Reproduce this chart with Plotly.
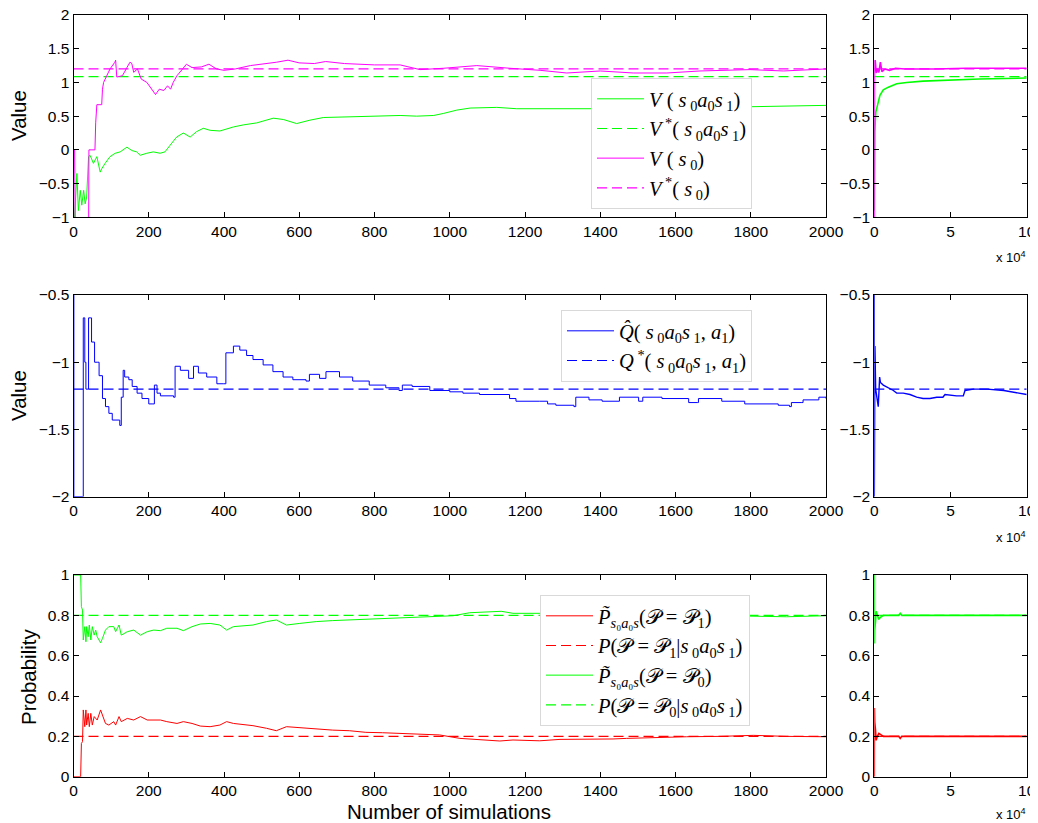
import plotly.graph_objects as go

# ---------------- data ----------------
# Top panel: V(s0) and V(s0 a0 s1)
v_s0_left = [(0, 0), (3, 0), (5, -1.5), (40, -1.5), (41, 0), (57, 0), (59, 0.4), (62, 0.67), (75, 0.67),
             (77, 0.9), (80, 1.0), (88, 1.1), (97, 1.2), (110, 1.3), (112, 1.33), (115, 1.08), (130, 1.1),
             (140, 1.2), (150, 1.3), (155, 1.28), (160, 1.15), (170, 1.2), (180, 1.05), (195, 1.0),
             (205, 0.92), (212, 0.85), (218, 0.82), (228, 0.9), (240, 0.88), (250, 0.95), (258, 0.9),
             (265, 1.0), (275, 1.1), (290, 1.2), (300, 1.27), (315, 1.22), (340, 1.23), (360, 1.27),
             (380, 1.2), (400, 1.18), (430, 1.2), (470, 1.25), (500, 1.27), (540, 1.3), (570, 1.33),
             (600, 1.29), (640, 1.28), (670, 1.31), (720, 1.28), (800, 1.26), (868, 1.26), (921, 1.19),
             (983, 1.21), (1072, 1.25), (1160, 1.21), (1240, 1.18), (1311, 1.14), (1400, 1.17),
             (1488, 1.14), (1577, 1.14), (1665, 1.17), (1798, 1.19), (1887, 1.17), (2000, 1.2)]
v_s0a0s1_left = [(2, -1.1), (9, -0.35), (13, -0.9), (18, -0.6), (22, -0.82), (27, -0.6), (31, -0.8),
                 (35, -0.7), (40, -0.1), (44, -0.08), (53, -0.2), (62, -0.1), (71, -0.33), (75, -0.28),
                 (84, -0.2), (97, -0.1), (111, -0.05), (124, -0.03), (142, 0.04), (155, -0.01),
                 (168, -0.03), (177, -0.08), (195, -0.05), (212, -0.03), (230, -0.05), (243, -0.03),
                 (257, 0.07), (274, 0.19), (292, 0.25), (310, 0.19), (327, 0.27), (345, 0.32),
                 (363, 0.29), (389, 0.28), (425, 0.34), (451, 0.37), (487, 0.40), (531, 0.47),
                 (558, 0.45), (593, 0.39), (628, 0.44), (664, 0.48), (735, 0.49), (823, 0.50),
                 (868, 0.51), (912, 0.5), (957, 0.51), (983, 0.54), (1019, 0.59), (1054, 0.62),
                 (1125, 0.63), (1178, 0.61), (1249, 0.61), (1311, 0.6), (1400, 0.61), (1600, 0.62),
                 (1807, 0.64), (1887, 0.64), (2000, 0.66)]
v_s0_right = [(0, 0), (5, -1.5), (40, -1.5), (41, 0), (60, 0.67), (110, 1.33), (220, 0.82), (300, 1.27),
              (570, 1.33), (1000, 1.25), (1300, 1.14), (2000, 1.2), (3000, 1.15), (4000, 1.3),
              (5000, 1.16), (7000, 1.2), (10000, 1.18), (14000, 1.21), (20000, 1.2), (40000, 1.2),
              (60000, 1.21), (100000, 1.21)]
v_s0a0s1_right = [(0, -0.5), (10, -0.9), (40, -0.1), (70, -0.33), (300, 0.27), (1000, 0.56), (2000, 0.66),
                  (2600, 0.74), (3700, 0.81), (5900, 0.89), (9200, 0.93), (14700, 0.98), (21200, 1.0),
                  (32000, 1.02), (47500, 1.035), (69000, 1.05), (100000, 1.065)]
v_star_s0 = 1.2
v_star_s0a0s1 = 1.085

# Middle panel: Q(s0 a0 s1, a1)
q_left = [(0, -0.3), (1, -2.0), (24, -2.0), (26, -0.67), (30, -1.0), (33, -1.2), (39, -1.2), (40, -0.67),
          (46, -0.67), (48, -0.85), (55, -0.85), (56, -1.0), (63, -1.0), (68, -1.1), (77, -1.27),
          (85, -1.33), (94, -1.38), (103, -1.43), (121, -1.43), (123, -1.47), (127, -1.26), (132, -1.06),
          (136, -1.11), (147, -1.13), (156, -1.18), (169, -1.23), (182, -1.27), (200, -1.31),
          (211, -1.31), (215, -1.17), (222, -1.23), (231, -1.25), (266, -1.26), (270, -1.03),
          (284, -1.06), (306, -1.12), (319, -1.03), (332, -1.08), (354, -1.11), (381, -1.16),
          (398, -1.16), (405, -0.93), (416, -0.93), (425, -0.88), (442, -0.91), (460, -0.95),
          (477, -0.98), (504, -1.02), (530, -1.07), (557, -1.11), (583, -1.13), (618, -1.14),
          (627, -1.09), (654, -1.12), (671, -1.07), (707, -1.11), (742, -1.14), (786, -1.17),
          (830, -1.19), (865, -1.21), (874, -1.17), (900, -1.18), (947, -1.21), (1000, -1.22),
          (1035, -1.23), (1079, -1.24), (1159, -1.27), (1176, -1.29), (1238, -1.29), (1260, -1.31),
          (1282, -1.32), (1330, -1.33), (1335, -1.26), (1370, -1.28), (1405, -1.29), (1450, -1.29),
          (1451, -1.26), (1502, -1.29), (1513, -1.26), (1564, -1.27), (1635, -1.30), (1659, -1.30),
          (1661, -1.27), (1723, -1.29), (1784, -1.31), (1873, -1.32), (1903, -1.33), (1908, -1.30),
          (1934, -1.30), (1939, -1.28), (1979, -1.28), (1981, -1.26), (2000, -1.27)]
q_right = [(0, -0.3), (20, -2.0), (30, -0.67), (120, -1.47), (420, -0.88), (900, -1.2), (2000, -1.27),
           (2600, -1.33), (3500, -1.11), (4000, -1.15), (5900, -1.17), (9200, -1.19), (12500, -1.21),
           (14700, -1.23), (19000, -1.23), (23400, -1.24), (27800, -1.26), (32000, -1.27),
           (36500, -1.27), (41000, -1.26), (45000, -1.26), (46400, -1.24), (54000, -1.25),
           (58400, -1.25), (59500, -1.21), (65000, -1.2), (74000, -1.2), (85000, -1.21),
           (100000, -1.24)]
q_star = -1.2

# Bottom panel: probabilities
p0_left = [(0, 1), (19, 1), (21, 0.843), (24, 0.826), (26, 0.678), (30, 0.744), (33, 0.669), (35, 0.744),
           (39, 0.694), (42, 0.752), (46, 0.678), (50, 0.744), (55, 0.702), (59, 0.727), (63, 0.694),
           (72, 0.664), (77, 0.686), (85, 0.727), (94, 0.744), (107, 0.744), (112, 0.719), (121, 0.752),
           (127, 0.702), (143, 0.719), (160, 0.727), (178, 0.702), (196, 0.719), (213, 0.727),
           (231, 0.724), (248, 0.736), (275, 0.736), (292, 0.724), (315, 0.744), (337, 0.757),
           (363, 0.760), (389, 0.752), (407, 0.727), (425, 0.744), (477, 0.752), (513, 0.769),
           (539, 0.777), (566, 0.752), (601, 0.760), (645, 0.769), (689, 0.774), (733, 0.777),
           (777, 0.782), (821, 0.785), (920, 0.79), (973, 0.793), (1009, 0.798), (1053, 0.813),
           (1098, 0.815), (1137, 0.82), (1168, 0.81), (1300, 0.81), (1500, 0.805), (1700, 0.8),
           (1802, 0.797), (1895, 0.793), (2000, 0.798)]
p1_left = [(0, 0), (19, 0), (21, 0.165), (24, 0.174), (26, 0.331), (30, 0.248), (33, 0.331), (35, 0.256),
           (39, 0.314), (42, 0.248), (46, 0.314), (50, 0.256), (55, 0.298), (63, 0.281), (72, 0.331),
           (77, 0.306), (85, 0.264), (94, 0.256), (107, 0.273), (112, 0.256), (121, 0.298), (127, 0.273),
           (143, 0.289), (160, 0.281), (178, 0.298), (196, 0.281), (213, 0.281), (231, 0.281),
           (248, 0.273), (275, 0.264), (292, 0.273), (315, 0.264), (337, 0.251), (363, 0.248),
           (389, 0.256), (407, 0.273), (425, 0.264), (477, 0.253), (513, 0.240), (539, 0.228),
           (566, 0.248), (601, 0.243), (645, 0.235), (689, 0.231), (733, 0.228), (777, 0.220),
           (821, 0.218), (920, 0.21), (973, 0.207), (1027, 0.19), (1062, 0.185), (1133, 0.177),
           (1168, 0.182), (1239, 0.178), (1293, 0.185), (1363, 0.185), (1434, 0.187), (1470, 0.19),
           (1541, 0.195), (1629, 0.198), (1718, 0.2), (1807, 0.205), (1895, 0.2), (2000, 0.198)]
p0_right = [(0, 1), (20, 1), (25, 0.84), (30, 0.67), (80, 0.66), (300, 0.73), (800, 0.77), (1200, 0.82),
            (2000, 0.8), (3000, 0.78), (4000, 0.79), (6000, 0.8), (10000, 0.8), (16000, 0.8),
            (17000, 0.81), (18000, 0.8), (30000, 0.8), (50000, 0.8), (100000, 0.8)]
p1_right = [(0, 0), (20, 0), (25, 0.17), (30, 0.33), (80, 0.34), (300, 0.27), (800, 0.23), (1200, 0.18),
            (2000, 0.2), (3000, 0.215), (4000, 0.21), (6000, 0.2), (10000, 0.2), (16000, 0.2),
            (17000, 0.19), (18000, 0.2), (30000, 0.2), (50000, 0.2), (100000, 0.2)]
p0_true = 0.8
p1_true = 0.2

left_xrange = [0, 2000]
right_xrange = [0, 100000]
right_tickvals = [0, 50000, 100000]
right_ticktext = ["0", "5", "10"]

# ---------------- styling ----------------
# the page has an 8px body margin, so the figure is 8px smaller and every
# reference pixel position is shifted by 8px
OFF = 8
W, H = 1038 - OFF, 823 - OFF
GREEN = "#00ff00"
MAGENTA = "#ff00ff"
BLUE = "#0000ff"
RED = "#ff0000"
DASH = "10px,5px"


def px_x(p):
    return (p - OFF) / W


def px_y(p):
    return (H - (p - OFF)) / H


left_dom = [px_x(73.5), px_x(826)]
right_dom = [px_x(874.3), px_x(1026.7)]
top_dom = [px_y(217.3), px_y(15)]
mid_dom = [px_y(496.7), px_y(295)]
bot_dom = [px_y(776.7), px_y(575)]


def xy(points):
    return [p[0] for p in points], [p[1] for p in points]


fig = go.Figure()


def add_line(points, color, xa, ya, name=None, legend=None, dash=None, width=1.0, shape="linear"):
    x, y = xy(points)
    fig.add_trace(go.Scatter(
        x=x, y=y, mode="lines", xaxis=xa, yaxis=ya,
        line=dict(color=color, width=width, dash=dash, shape=shape),
        name=name, showlegend=name is not None, legend=legend if legend else "legend",
        hoverinfo="skip"))


def add_hline(value, xr, color, xa, ya, name=None, legend=None):
    add_line([(xr[0], value), (xr[1], value)], color, xa, ya, name=name, legend=legend, dash=DASH,
             width=1.2)


S0A0S1 = "<i>s</i><sub> 0</sub><i>a</i><sub>0</sub><i>s</i><sub> 1</sub>"

# top-left
add_line(v_s0a0s1_left, GREEN, "x", "y", name="<i>V</i> ( " + S0A0S1 + ")", legend="legend")
add_hline(v_star_s0a0s1, left_xrange, GREEN, "x", "y", name="<i>V</i><sup> *</sup>( " + S0A0S1 + ")", legend="legend")
add_line(v_s0_left, MAGENTA, "x", "y", name="<i>V</i> ( <i>s</i><sub> 0</sub>)", legend="legend")
add_hline(v_star_s0, left_xrange, MAGENTA, "x", "y", name="<i>V</i><sup> *</sup>( <i>s</i><sub> 0</sub>)", legend="legend")
# top-right
add_line(v_s0a0s1_right, GREEN, "x2", "y2", width=1.6)
add_hline(v_star_s0a0s1, right_xrange, GREEN, "x2", "y2")
add_line(v_s0_right, MAGENTA, "x2", "y2", width=1.6)
add_hline(v_star_s0, right_xrange, MAGENTA, "x2", "y2")

# middle-left
add_line(q_left, BLUE, "x3", "y3", name="<i>Q&#770;</i>( " + S0A0S1 + ", <i>a</i><sub>1</sub>)", legend="legend2", shape="hv")
add_hline(q_star, left_xrange, BLUE, "x3", "y3", name="<i>Q</i><sup> *</sup>( " + S0A0S1 + ", <i>a</i><sub>1</sub>)", legend="legend2")
# middle-right
add_line(q_right, BLUE, "x4", "y4", width=1.4)
add_hline(q_star, right_xrange, BLUE, "x4", "y4")

# bottom-left
PT = "<i>P&#771;</i><sub><i>s</i>₀<i>a</i>₀<i>s</i></sub>"
add_line(p1_left, RED, "x5", "y5", name=PT + "(𝒫 = 𝒫<sub>1</sub>)", legend="legend3")
add_hline(p1_true, left_xrange, RED, "x5", "y5", name="<i>P</i>(𝒫 = 𝒫<sub>1</sub>|" + S0A0S1 + ")", legend="legend3")
add_line(p0_left, GREEN, "x5", "y5", name=PT + "(𝒫 = 𝒫<sub>0</sub>)", legend="legend3")
add_hline(p0_true, left_xrange, GREEN, "x5", "y5", name="<i>P</i>(𝒫 = 𝒫<sub>0</sub>|" + S0A0S1 + ")", legend="legend3")
# bottom-right
add_line(p1_right, RED, "x6", "y6", width=1.6)
add_hline(p1_true, right_xrange, RED, "x6", "y6")
add_line(p0_right, GREEN, "x6", "y6", width=1.6)
add_hline(p0_true, right_xrange, GREEN, "x6", "y6")

TICKFONT = dict(family="Liberation Sans, Arial, sans-serif", size=15.5, color="black")
axis_common = dict(showline=True, linecolor="black", linewidth=1, mirror="ticks", ticks="inside",
                   ticklen=5, tickcolor="black", showgrid=False, zeroline=False, tickfont=TICKFONT,
                   automargin=False, ticklabeloverflow="allow")


def xaxis_left(dom, anchor):
    return dict(axis_common, domain=dom, anchor=anchor, range=left_xrange, tickmode="linear",
                tick0=0, dtick=200)


def xaxis_right(dom, anchor):
    return dict(axis_common, domain=dom, anchor=anchor, range=right_xrange, tickmode="array",
                tickvals=right_tickvals, ticktext=right_ticktext)


def yaxis(dom, anchor, rng, dtick):
    return dict(axis_common, domain=dom, anchor=anchor, range=rng, tickmode="linear",
                tick0=rng[0], dtick=dtick)


legend_common = dict(bgcolor="white", bordercolor="#d9d9d9", borderwidth=1,
                     font=dict(family="Liberation Serif, DejaVu Serif, serif", size=20.5, color="black"),
                     xanchor="right", yanchor="top", itemwidth=47, tracegroupgap=0)

fig.update_layout(
    width=W, height=H, margin=dict(l=0, r=0, t=0, b=0),
    paper_bgcolor="white", plot_bgcolor="white", showlegend=True,
    xaxis=xaxis_left(left_dom, "y"), yaxis=yaxis(top_dom, "x", [-1, 2], 0.5),
    xaxis2=xaxis_right(right_dom, "y2"), yaxis2=yaxis(top_dom, "x2", [-1, 2], 0.5),
    xaxis3=xaxis_left(left_dom, "y3"), yaxis3=yaxis(mid_dom, "x3", [-2, -0.5], 0.5),
    xaxis4=xaxis_right(right_dom, "y4"), yaxis4=yaxis(mid_dom, "x4", [-2, -0.5], 0.5),
    xaxis5=xaxis_left(left_dom, "y5"), yaxis5=yaxis(bot_dom, "x5", [0, 1], 0.2),
    xaxis6=xaxis_right(right_dom, "y6"), yaxis6=yaxis(bot_dom, "x6", [0, 1], 0.2),
    legend=dict(legend_common, x=px_x(752), y=px_y(78)),
    legend2=dict(legend_common, x=px_x(752), y=px_y(310)),
    legend3=dict(legend_common, x=px_x(750), y=px_y(595)),
)

TITLEFONT = dict(family="Liberation Sans, Arial, sans-serif", size=20.5, color="black")
annotations = [
    dict(text="Value", x=px_x(18), y=px_y(116), textangle=-90),
    dict(text="Value", x=px_x(18), y=px_y(396), textangle=-90),
    dict(text="Probability", x=px_x(28), y=px_y(677), textangle=-90),
    dict(text="Number of simulations", x=px_x(449), y=px_y(811), textangle=0),
]
for a in annotations:
    fig.add_annotation(xref="paper", yref="paper", showarrow=False, font=TITLEFONT,
                       xanchor="center", yanchor="middle", **a)

for ybot in (257, 537, 814):
    fig.add_annotation(xref="paper", yref="paper", showarrow=False,
                       font=dict(family="Liberation Sans, Arial, sans-serif", size=13, color="black"),
                       text="x 10<sup>4</sup>", x=px_x(1028), y=px_y(ybot), xanchor="right", yanchor="middle")

fig.write_html("out.html")
